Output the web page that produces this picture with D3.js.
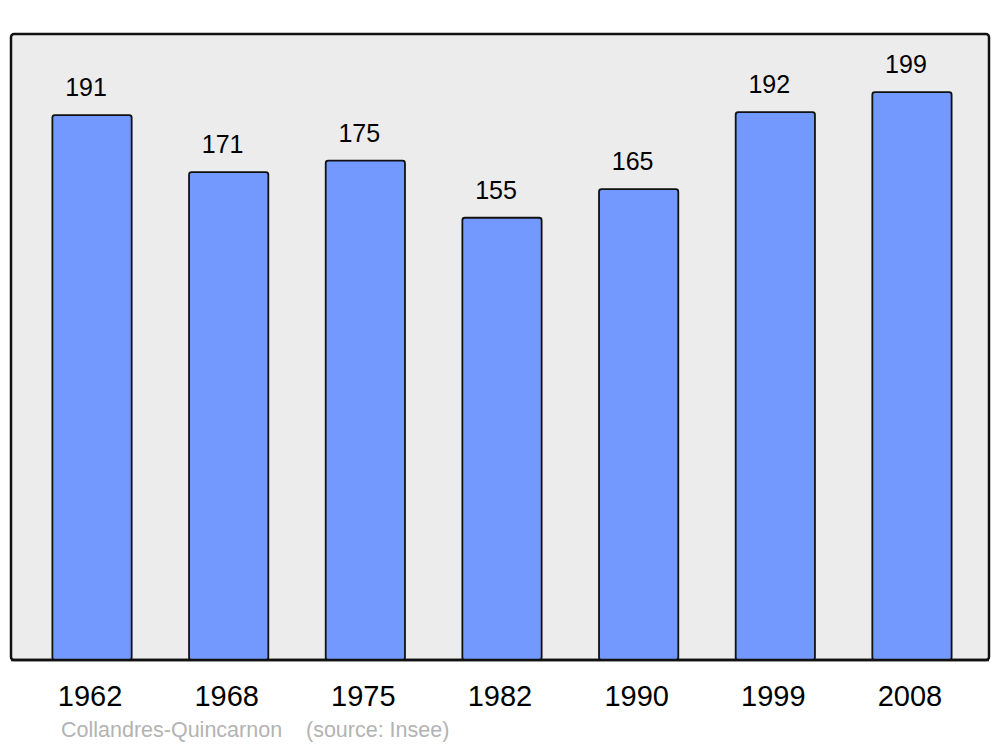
<!DOCTYPE html>
<html lang="fr">
<head>
<meta charset="utf-8">
<title>Population Collandres-Quincarnon</title>
<script src="https://cdn.jsdelivr.net/npm/d3@7"></script>
<style>
    body { margin: 0; background: #fff; }
    svg { display: block; font-family: "Liberation Sans", Arial, sans-serif; }
</style>
</head>
<body>
<script>
    var years = ['1962', '1968', '1975', '1982', '1990', '1999', '2008'];
    var population = [191, 171, 175, 155, 165, 192, 199];
    var commune = 'Collandres-Quincarnon';
    var source = '(source: Insee)';

    var width = 1000, height = 747;
    var svg = d3.select('body').append('svg')
        .attr('width', width)
        .attr('height', height);

    // plot frame
    svg.append('rect')
        .attr('x', 11).attr('y', 34)
        .attr('width', 978).attr('height', 626)
        .attr('rx', 3).attr('ry', 3)
        .attr('fill', '#ececec')
        .attr('stroke', '#111')
        .attr('stroke-width', 2.5);

    var x = d3.scaleBand()
        .domain(years)
        .range([23.7, 980.3])
        .paddingInner(0.42)
        .paddingOuter(0.21);

    var y = d3.scaleLinear()
        .domain([0, 219.4])
        .range([660, 34]);

    var bars = svg.selectAll('.bar')
        .data(years)
        .enter().append('g');

    bars.append('rect')
        .attr('x', function (d) { return x(d); })
        .attr('y', function (d, i) { return y(population[i]); })
        .attr('width', x.bandwidth())
        .attr('height', function (d, i) { return y(0) - y(population[i]); })
        .attr('rx', 2.5).attr('ry', 2.5)
        .attr('fill', '#7399ff')
        .attr('stroke', '#111')
        .attr('stroke-width', 1.8);

    bars.append('text')
        .attr('x', function (d) { return x(d) + x.bandwidth() / 2 - 6; })
        .attr('y', function (d, i) { return y(population[i]) - 19; })
        .attr('text-anchor', 'middle')
        .attr('font-size', 25)
        .attr('fill', '#000')
        .text(function (d, i) { return population[i]; });

    // redraw bottom frame edge over bars
    svg.append('line')
        .attr('x1', 11).attr('x2', 989)
        .attr('y1', 660).attr('y2', 660)
        .attr('stroke', '#111')
        .attr('stroke-width', 2.5);

    svg.selectAll('.year')
        .data(years)
        .enter().append('text')
        .attr('x', function (d) { return x(d) + x.bandwidth() / 2 - 2; })
        .attr('y', 706)
        .attr('text-anchor', 'middle')
        .attr('font-size', 29)
        .attr('fill', '#000')
        .text(function (d) { return d; });

    svg.append('text')
        .attr('x', 61)
        .attr('y', 737)
        .attr('font-size', 21.5)
        .attr('fill', '#b3b3b3')
        .attr('xml:space', 'preserve')
        .style('white-space', 'pre')
        .text(commune + '    ' + source);
</script>
</body>
</html>
